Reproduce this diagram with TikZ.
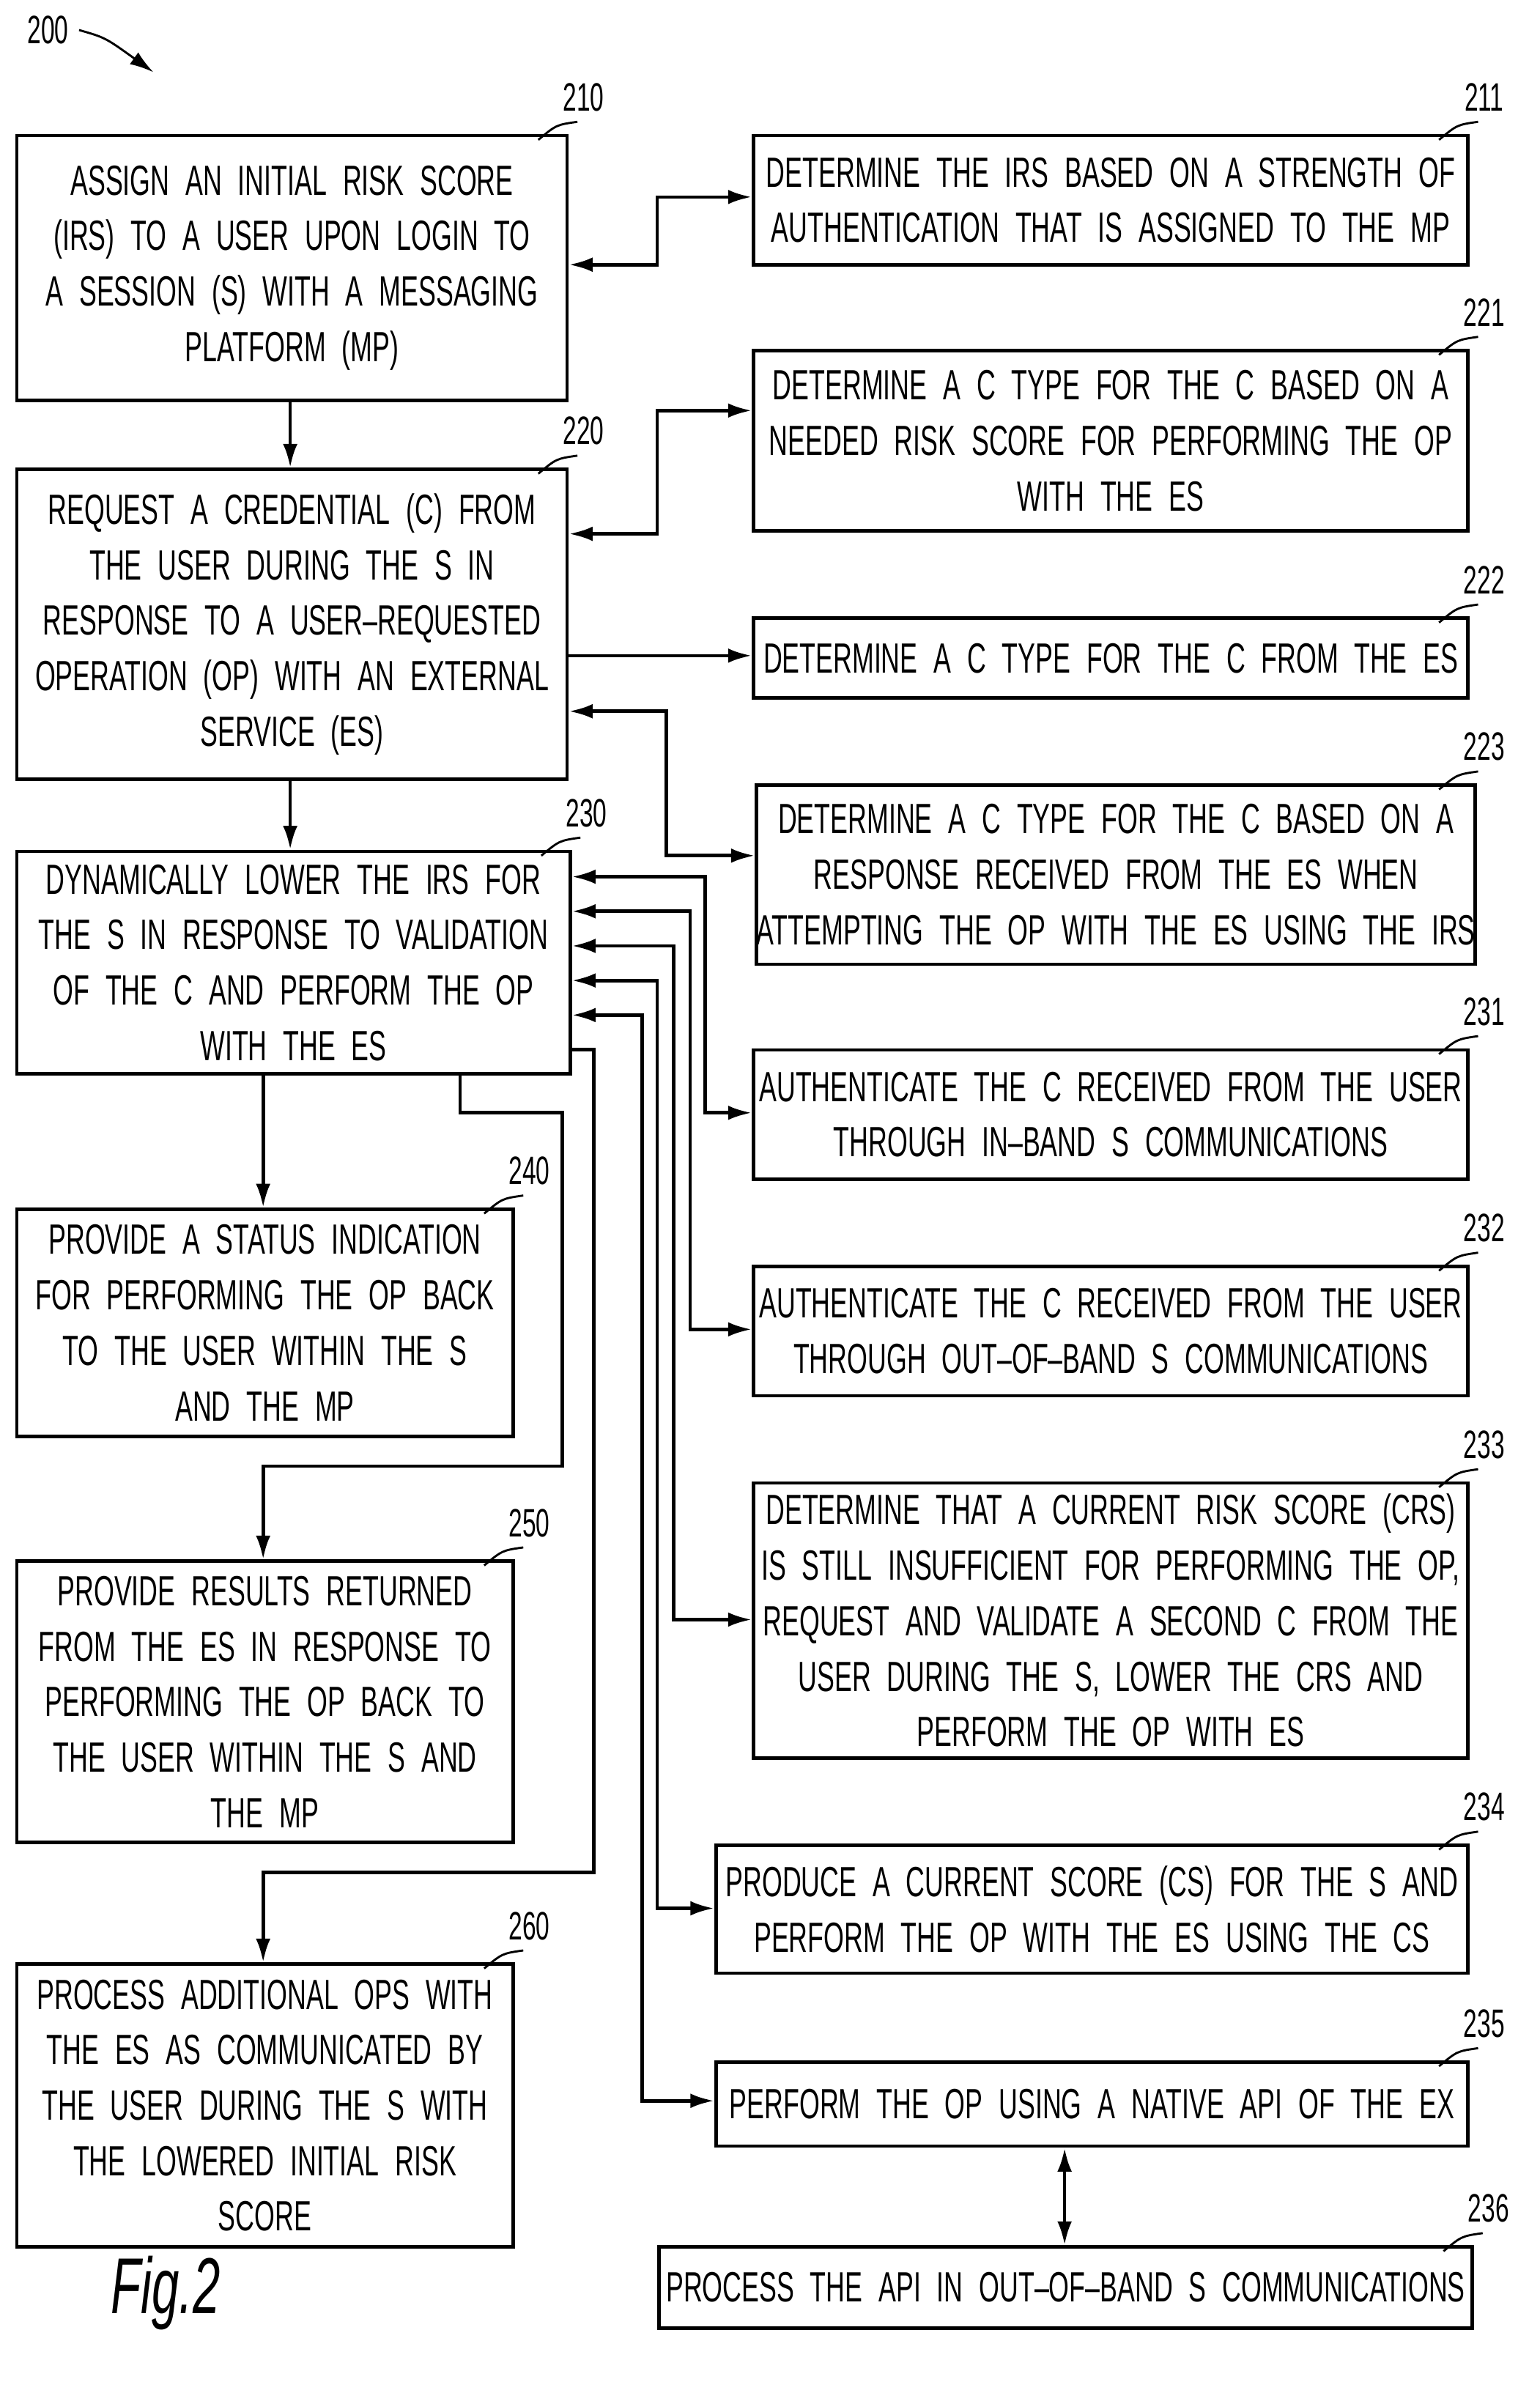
\documentclass[tikz,border=0pt]{standalone}
\usepackage{fontspec}
\setmainfont{Liberation Sans}[FakeStretch=0.62,WordSpace=2.2]
\usetikzlibrary{positioning,calc,arrows.meta}
\begin{document}
\begin{tikzpicture}[x=0.02cm,y=-0.02cm,line width=1.3pt,>={Latex[length=9pt,width=5.5pt]}]
        % Styles for the step boxes and the reference numerals
        \tikzset{
            stepnode/.style={draw, align=center, font=\fontsize{16}{21}\selectfont, inner sep=0pt},
            numeral/.style={font=\fontsize{15}{15}\selectfont},
            flow/.style={->, line width=1.3pt},
        }
        \useasboundingbox (0,0) rectangle (1024,1584);

        % Macro placing a box from its corners, with its numeral
        \newcommand{\stepbox}[6]{%
            \node[stepnode, minimum width={(#4-#2)*0.02cm}, minimum height={(#5-#3)*0.02cm}, anchor=north west]
                (#1) at (#2,#3) {#6};
            \node[numeral, anchor=south] (n#1) at ($(#4,#3)+(12,-8)$) {#1};
            \draw[line width=0.8pt] ($(#4,#3)+(-18,4)$) .. controls ($(#4,#3)+(-6,-6)$) .. ($(#4,#3)+(8,-8)$);
        }

        % Left column
        \stepbox{210}{10}{89}{376}{265}{ASSIGN AN INITIAL RISK SCORE\\(IRS) TO A USER UPON LOGIN TO\\A SESSION (S) WITH A MESSAGING\\PLATFORM (MP)}
        \stepbox{220}{10}{311}{376}{517}{REQUEST A CREDENTIAL (C) FROM\\THE USER DURING THE S IN\\RESPONSE TO A USER--REQUESTED\\OPERATION (OP) WITH AN EXTERNAL\\SERVICE (ES)}
        \stepbox{230}{10}{565}{378}{713}{DYNAMICALLY LOWER THE IRS FOR\\THE S IN RESPONSE TO VALIDATION\\OF THE C AND PERFORM THE OP\\WITH THE ES}
        \stepbox{240}{10}{803}{340}{954}{PROVIDE A STATUS INDICATION\\FOR PERFORMING THE OP BACK\\TO THE USER WITHIN THE S\\AND THE MP}
        \stepbox{250}{10}{1037}{340}{1224}{PROVIDE RESULTS RETURNED\\FROM THE ES IN RESPONSE TO\\PERFORMING THE OP BACK TO\\THE USER WITHIN THE S AND\\THE MP}
        \stepbox{260}{10}{1305}{340}{1493}{PROCESS ADDITIONAL OPS WITH\\THE ES AS COMMUNICATED BY\\THE USER DURING THE S WITH\\THE LOWERED INITIAL RISK\\SCORE}

        % Right column
        \stepbox{211}{500}{89}{975}{175}{DETERMINE THE IRS BASED ON A STRENGTH OF\\AUTHENTICATION THAT IS ASSIGNED TO THE MP}
        \stepbox{221}{500}{232}{975}{352}{DETERMINE A C TYPE FOR THE C BASED ON A\\NEEDED RISK SCORE FOR PERFORMING THE OP\\WITH THE ES}
        \stepbox{222}{500}{410}{975}{463}{DETERMINE A C TYPE FOR THE C FROM THE ES}
        \stepbox{223}{502}{521}{975}{640}{DETERMINE A C TYPE FOR THE C BASED ON A\\RESPONSE RECEIVED FROM THE ES WHEN\\ATTEMPTING THE OP WITH THE ES USING THE IRS}
        \stepbox{231}{500}{697}{975}{783}{AUTHENTICATE THE C RECEIVED FROM THE USER\\THROUGH IN--BAND S COMMUNICATIONS}
        \stepbox{232}{500}{841}{975}{927}{AUTHENTICATE THE C RECEIVED FROM THE USER\\THROUGH OUT--OF--BAND S COMMUNICATIONS}
        \stepbox{233}{500}{985}{975}{1168}{DETERMINE THAT A CURRENT RISK SCORE (CRS)\\IS STILL INSUFFICIENT FOR PERFORMING THE OP,\\REQUEST AND VALIDATE A SECOND C FROM THE\\USER DURING THE S, LOWER THE CRS AND\\PERFORM THE OP WITH ES}
        \stepbox{234}{475}{1226}{975}{1311}{PRODUCE A CURRENT SCORE (CS) FOR THE S AND\\PERFORM THE OP WITH THE ES USING THE CS}
        \stepbox{235}{475}{1370}{975}{1426}{PERFORM THE OP USING A NATIVE API OF THE EX}
        \stepbox{236}{437}{1493}{978}{1547}{PROCESS THE API IN OUT--OF--BAND S COMMUNICATIONS}

        % Figure number and title
        \node[font=\fontsize{15}{15}\selectfont] (n200) at (32,20) {200};
        \coordinate (t200) at (102,48);
        \draw[->, line width=0.8pt] (n200.east) .. controls (70,25) .. (t200);
        \node[font=\itshape\fontsize{30}{30}\selectfont] (fig) at (110,1525) {Fig.2};

        % Main flow
        \draw[flow] (210.south -| 193,0) -- (220.north -| 193,0);
        \draw[flow] (220.south -| 193,0) -- (230.north -| 193,0);
        \draw[flow] (230.south -| 175,0) -- (240.north -| 175,0);
        \draw[flow] (306,713) -- (306,740) -- (374,740) -- (374,975) -- (175,975) -- (250.north -| 175,0);
        \draw[flow] (378,698) -- (395,698) -- (395,1245) -- (175,1245) -- (260.north -| 175,0);

        % Side brackets
        \draw[<->] (211.west |- 0,131) -| (437,176) -- (210.east |- 0,176);
        \draw[<->] (221.west |- 0,273) -| (437,355) -- (220.east |- 0,355);
        \draw[flow] (220.east |- 0,436) -- (222.west |- 0,436);
        \draw[<->] (220.east |- 0,473) -| (443,569) -- (223.west |- 0,569);
        \draw[<->] (230.east |- 0,583) -| (469,740) -- (231.west |- 0,740);
        \draw[<->] (230.east |- 0,606) -| (459,884) -- (232.west |- 0,884);
        \draw[<->] (230.east |- 0,629) -| (448,1077) -- (233.west |- 0,1077);
        \draw[<->] (230.east |- 0,652) -| (437,1269) -- (234.west |- 0,1269);
        \draw[<->] (230.east |- 0,675) -| (427,1397) -- (235.west |- 0,1397);
        \draw[<->] (235.south -| 708,0) -- (236.north -| 708,0);
\end{tikzpicture}
\end{document}
